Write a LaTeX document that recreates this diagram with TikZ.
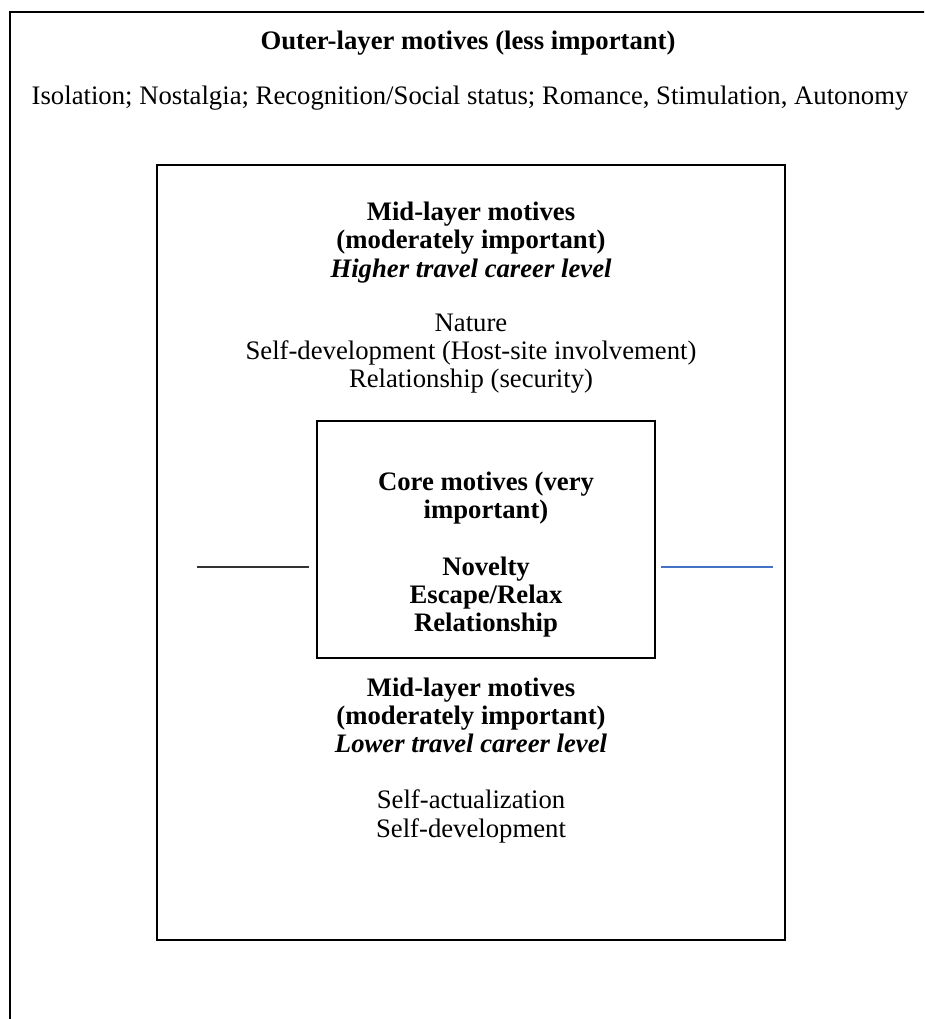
\documentclass[tikz,border=0pt]{standalone}
\usepackage{fontspec}
\setmainfont{Liberation Serif}
\begin{document}
\begin{tikzpicture}[x=1pt,y=-1pt,
  boxline/.style={draw=black,line width=2pt},
  txt/.style={anchor=base,inner sep=0pt,font=\fontsize{26.7}{28.5}\selectfont},
  hd/.style={txt,font=\fontsize{26.7}{28.5}\selectfont\bfseries},
  hdit/.style={txt,font=\fontsize{26.7}{28.5}\selectfont\bfseries\itshape},
  plainline/.style={line width=1.5pt},
]
\useasboundingbox (0,0) rectangle (924,1019);
\clip (0,0) rectangle (924,1019);
\fill[white] (0,0) rectangle (924,1019);

% outer layer frame (runs past the page on the right and bottom)
\draw[boxline] (10,1040) -- (10,12) -- (950,12);
\node[hd] (outerhd) at (468,50) {Outer-layer motives (less important)};
\node[txt] (outerlist) at (470,105) {Isolation; Nostalgia; Recognition/Social status; Romance, Stimulation, Autonomy};

% mid layer frame
\draw[boxline] (157,165) rectangle (785,940);
\node[hd] (midhiA) at (471,220) {Mid-layer motives};
\node[hd] (midhiB) at (471,248) {(moderately important)};
\node[hdit] (midhiC) at (471,277) {Higher travel career level};
\node[txt] (midhi1) at (471,331) {Nature};
\node[txt] (midhi2) at (471,359) {Self-development (Host-site involvement)};
\node[txt] (midhi3) at (471,387) {Relationship (security)};

% core frame
\draw[boxline] (317,421) rectangle (655,658);
\node[hd] (coreA) at (486,490) {Core motives (very};
\node[hd] (coreB) at (486,518) {important)};
\node[hd] (core1) at (486,575) {Novelty};
\node[hd] (core2) at (486,603) {Escape/Relax};
\node[hd] (core3) at (486,631) {Relationship};

\node[hd] (midloA) at (471,696) {Mid-layer motives};
\node[hd] (midloB) at (471,724) {(moderately important)};
\node[hdit] (midloC) at (471,752) {Lower travel career level};
\node[txt] (midlo1) at (471,808) {Self-actualization};
\node[txt] (midlo2) at (471,837) {Self-development};

% short side rules beside the core
\coordinate (la) at (197,567);
\coordinate (lb) at (309,567);
\coordinate (ra) at (661,567);
\coordinate (rb) at (773,567);
\draw[plainline,draw=black!80] (la) -- (lb);
\draw[plainline,draw={rgb,255:red,68;green,114;blue,196}] (ra) -- (rb);
\end{tikzpicture}
\end{document}
